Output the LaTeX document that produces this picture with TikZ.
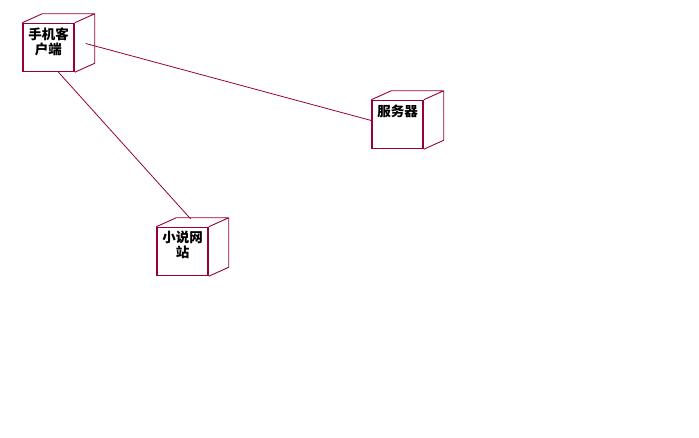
\documentclass[tikz,border=0pt]{standalone}
\usepackage{fontspec}
\newfontfamily\cjk{Noto Sans CJK SC}
\definecolor{umlred}{RGB}{150,0,60}

\begin{document}
\begin{tikzpicture}[x=1pt, y=-1pt,
    device/.style ={rectangle, draw=umlred, line width=1.5pt, minimum width=51pt, minimum height=48pt, inner sep=0pt},
    devtext/.style ={anchor=north, yshift=-4.5pt, text width=45pt, align=center, inner sep=0pt,
                     font=\cjk\bfseries\fontsize{13.5}{15}\selectfont}]
   \useasboundingbox (0,0) rectangle (699,438);
   \node[device] (cli) [label={[devtext]90:{手机客\\户端}}] at (48.5,47.5) {};
   \node[device] (srv) [label={[devtext]90:{服务器}}] at (397.5,124.5) {};
   \node[device] (web) [label={[devtext]90:{小说网\\站}}] at (182.5,251.5) {};
   \foreach \n in {cli,srv,web}
      \draw[umlred, line width=0.9pt] (\n.north west) -- ++(20,-9) -- ([shift={(20,-9)}]\n.north east)
         -- ([shift={(20,-9)}]\n.south east) -- (\n.south east) (\n.north east) -- ++(20,-9);
   \draw[umlred, line width=0.8pt] ([shift={(11,-4)}]cli.east) to ([shift={(0,-4)}]srv.west);
   \draw[umlred, line width=0.8pt] ([xshift=10pt]cli.south) to ([shift={(8,-8)}]web.north);
 \end{tikzpicture}
\end{document}
